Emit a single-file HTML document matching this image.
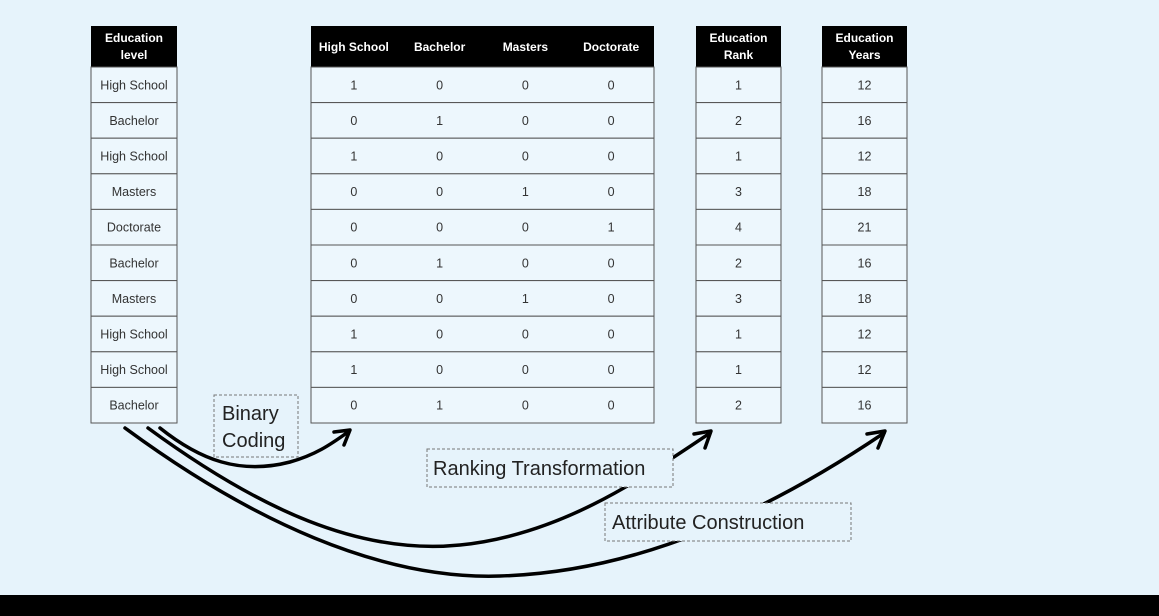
<!DOCTYPE html>
<html><head><meta charset="utf-8"><style>
html,body{margin:0;padding:0;background:#e6f3fb;}
svg{display:block;font-family:"Liberation Sans",sans-serif;}
</style></head><body>
<svg width="1159" height="616" viewBox="0 0 1159 616" xmlns="http://www.w3.org/2000/svg">
<rect width="1159" height="616" fill="#e6f3fb"/>
<g id="tables"></g>
<rect x="0" y="595" width="1159" height="21" fill="#000"/>
<g fill="none" stroke="#000" stroke-width="3.5" stroke-linecap="round" stroke-linejoin="round">
<path d="M160 428 C200 460 240 475 290 462 C315 455 330 445 348 432"/>
<path d="M334 432 L350 430 L344 445"/>
<path d="M148 428 C260 510 360 555 460 545 C560 535 640 480 710 433"/>
<path d="M694 434 L711 431 L705 448"/>
<path d="M125 428 C250 520 380 580 500 576 C640 572 770 510 884 433"/>
<path d="M867 434 L885 431 L878 448"/>
</g>
<g fill="#e6f3fb" stroke="#777" stroke-width="1" stroke-dasharray="3,2">
<rect x="214" y="395" width="84" height="62"/>
<rect x="427" y="449" width="246" height="38"/>
<rect x="605" y="503" width="246" height="38"/>
</g>
<g font-size="20" fill="#222">
<text x="222" y="420">Binary</text>
<text x="222" y="447">Coding</text>
<text x="433" y="475">Ranking Transformation</text>
<text x="612" y="529">Attribute Construction</text>
</g>
</svg>
<script>
(function(){
var g=document.getElementById('tables');var ns='http://www.w3.org/2000/svg';
function el(t,a,txt){var e=document.createElementNS(ns,t);for(var k in a)e.setAttribute(k,a[k]);if(txt!==undefined)e.textContent=String(txt);g.appendChild(e);return e;}
var lv=['High School','Bachelor','High School','Masters','Doctorate','Bachelor','Masters','High School','High School','Bachelor'];
var map={'High School':[1,0,0,0,1,12],'Bachelor':[0,1,0,0,2,16],'Masters':[0,0,1,0,3,18],'Doctorate':[0,0,0,1,4,21]};
var T=26,hb=67,rh=35.6;
function table(x,w,hdr,cols,vals){
 el('rect',{x:x,y:T,width:w,height:hb-T,fill:'#000'});
 var cw=w/cols;
 hdr.forEach(function(h,i){var cx=x+cw*i+cw/2;
  if(Array.isArray(h)){el('text',{x:cx,y:T+16,'text-anchor':'middle','font-size':'12','font-weight':'bold',fill:'#fff'},h[0]);el('text',{x:cx,y:T+33,'text-anchor':'middle','font-size':'12','font-weight':'bold',fill:'#fff'},h[1]);}
  else el('text',{x:cx,y:T+25,'text-anchor':'middle','font-size':'12','font-weight':'bold',fill:'#fff'},h);});
 for(var r=0;r<10;r++){var y=hb+r*rh;
  el('rect',{x:x,y:y,width:w,height:rh,fill:'#edf7fd',stroke:'#555','stroke-width':1});
  vals(r).forEach(function(v,i){el('text',{x:x+cw*i+cw/2,y:y+rh/2+4.5,'text-anchor':'middle','font-size':'12.5',fill:'#333'},v);});}
}
table(91,86,[['Education','level']],1,function(r){return [lv[r]];});
table(311,343,['High School','Bachelor','Masters','Doctorate'],4,function(r){return map[lv[r]].slice(0,4);});
table(696,85,[['Education','Rank']],1,function(r){return [map[lv[r]][4]];});
table(822,85,[['Education','Years']],1,function(r){return [map[lv[r]][5]];});
})();
</script>
</body></html>
